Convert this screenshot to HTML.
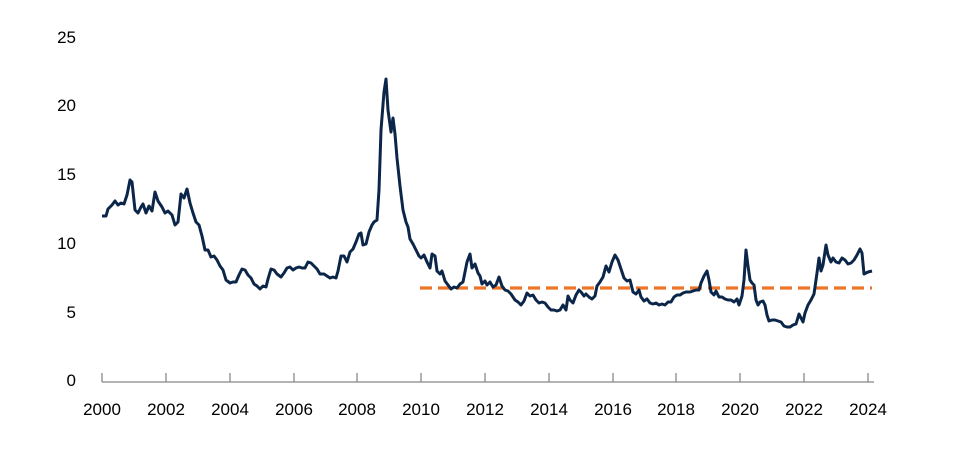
<!DOCTYPE html>
<html><head><meta charset="utf-8"><style>
html,body{margin:0;padding:0;background:#fff;}
svg{display:block;font-family:"Liberation Sans",Arial,sans-serif;}
</style></head><body>
<svg width="975" height="469" viewBox="0 0 975 469" xmlns="http://www.w3.org/2000/svg">
<g font-size="17" fill="#000" text-anchor="end">
<text x="76" y="43">25</text>
<text x="76" y="111">20</text>
<text x="76" y="180">15</text>
<text x="76" y="249">10</text>
<text x="76" y="318">5</text>
<text x="76" y="386">0</text>
</g>
<g stroke="#888" stroke-width="1.3" fill="none">
<line x1="102" y1="382" x2="874" y2="382"/>
<path d="M102 373V382M166 373V382M230 373V382M294 373V382M357 373V382M421 373V382M485 373V382M549 373V382M613 373V382M676 373V382M740 373V382M804 373V382M868 373V382"/>
</g>
<g font-size="17" fill="#000" text-anchor="middle">
<text x="102" y="415">2000</text><text x="166" y="415">2002</text><text x="230" y="415">2004</text><text x="294" y="415">2006</text><text x="357" y="415">2008</text><text x="421" y="415">2010</text><text x="485" y="415">2012</text><text x="549" y="415">2014</text><text x="613" y="415">2016</text><text x="676" y="415">2018</text><text x="740" y="415">2020</text><text x="804" y="415">2022</text><text x="868" y="415">2024</text>
</g>
<line x1="420" y1="288" x2="872" y2="288" stroke="#ED7428" stroke-width="3.3" stroke-dasharray="12,6"/>
<polyline fill="none" stroke="#0B2648" stroke-width="3" stroke-linejoin="round" points="102,216 106,216 108,209 112,205 115,201 118,205 121,203 124,204 127,195 130,180 132,182 135,210 138,213 141,207 143,204 146,213 149,206 152,211 155,192 158,201 162,207 165,213 168,211 172,215 175,225 178,222 181,194 184,198 187,189 190,203 193,213 196,222 199,225 202,236 205,250 208,250 211,257 214,256 217,260 220,266 223,270 226,280 230,283 233,282 236,282 239,275 242,269 245,270 248,275 251,278 254,284 257,286 260,289 263,286 266,287 268,279 271,269 274,270 277,274 281,277 284,273 287,268 290,267 293,270 296,268 299,267 302,268 305,268 308,262 311,263 314,266 317,269 320,274 324,274 327,276 330,278 333,277 336,278 338,271 341,256 344,256 347,262 350,252 353,249 356,242 359,234 361,233 363,245 366,244 369,232 372,225 374,222 377,220 379,190 381,130 384,92 386,79 388,110 391,132 393,118 395,134 397,158 400,186 403,210 406,222 408,227 410,239 413,244 416,250 419,256 421,258 424,255 427,262 430,268 432,254 435,256 437,271 440,274 442,271 445,281 448,285 451,289 454,287 457,288 460,284 463,282 467,262 470,254 472,268 475,264 478,273 480,276 482,284 485,281 487,285 490,282 493,287 496,285 499,277 502,286 505,290 508,291 511,294 515,300 518,302 521,305 524,301 527,293 530,296 533,295 536,300 539,303 542,302 545,303 548,307 551,310 554,310 557,311 560,310 563,305 566,310 568,296 570,300 573,303 576,295 579,290 581,292 584,296 586,294 589,297 592,299 595,296 597,286 600,282 603,277 606,266 609,272 612,262 615,255 618,260 621,269 624,278 627,281 630,280 633,292 636,294 639,290 641,297 644,301 647,299 650,303 653,304 656,303 659,305 662,304 665,305 668,302 671,302 674,297 677,295 680,295 683,293 686,292 690,292 693,291 696,290 699,290 701,283 704,276 707,271 709,280 711,292 714,295 716,291 719,297 722,297 725,299 728,300 731,300 734,302 737,299 739,305 742,296 744,280 746,250 748,266 750,280 752,283 754,285 756,300 758,305 760,302 763,301 765,305 767,315 769,321 772,320 775,320 778,321 781,322 784,326 787,327 790,327 793,325 796,324 799,314 801,318 803,322 805,313 808,305 811,300 814,294 817,273 819,258 821,271 823,265 826,245 828,255 831,262 833,258 836,262 839,263 842,258 845,260 848,264 851,263 854,260 857,255 860,249 862,253 864,274 866,273 868,272 872,271"/>
</svg>
</body></html>
